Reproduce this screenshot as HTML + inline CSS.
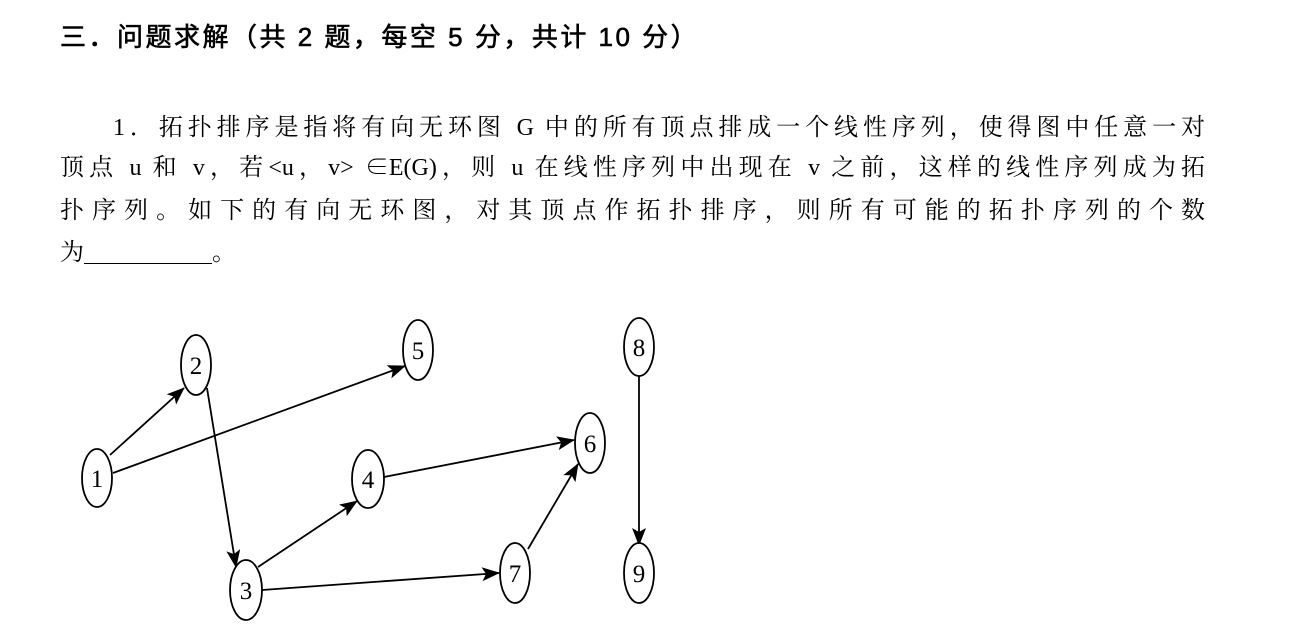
<!DOCTYPE html>
<html><head><meta charset="utf-8"><style>
body{margin:0;width:1299px;height:638px;background:#fff;overflow:hidden;position:relative;font-family:"Liberation Serif","Noto Serif CJK SC",serif;color:#000}
.t{position:absolute;left:60px;top:17px;font-family:"Liberation Sans","Noto Sans CJK SC",sans-serif;font-weight:normal;-webkit-text-stroke:0.6px #000;font-size:26px;letter-spacing:2.5px;white-space:nowrap}
.l{position:absolute;font-size:24px;white-space:nowrap;text-align:justify;text-align-last:justify;line-height:30px}
</style></head><body>
<div class="t">三．问题求解（共 2 题，每空 5 分，共计 10 分）</div>
<div class="l" style="left:113px;top:113px;width:1092px">1．拓扑排序是指将有向无环图 G 中的所有顶点排成一个线性序列，使得图中任意一对</div>
<div class="l" style="left:60px;top:153px;width:1145px">顶点 u 和 v，若&lt;u，v&gt; ∈E(G)，则 u 在线性序列中出现在 v 之前，这样的线性序列成为拓</div>
<div class="l" style="left:60px;top:196px;width:1145px">扑序列。如下的有向无环图，对其顶点作拓扑排序，则所有可能的拓扑序列的个数</div>
<div class="l" style="left:60px;top:238px;text-align:left;text-align-last:left">为<span style="display:inline-block;width:128px;border-bottom:1.5px solid #000;height:24px;vertical-align:-4px"></span>。</div>
<svg width="1299" height="638" style="position:absolute;left:0;top:0">
<defs>
<marker id="b" markerWidth="18" markerHeight="14" refX="17" refY="7" orient="auto" markerUnits="userSpaceOnUse"><path d="M0,0L18,7L0,14L4,7z"/></marker></defs>
<g stroke="#000" stroke-width="1.8" fill="none" marker-end="url(#b)">
<line x1="110" y1="455" x2="184" y2="388"/>
<line x1="113" y1="473" x2="405" y2="366"/>
<line x1="207" y1="388" x2="236" y2="567"/>
<line x1="258" y1="567" x2="357" y2="501"/>
<line x1="262" y1="590" x2="499" y2="573"/>
<line x1="384" y1="477" x2="574" y2="440"/>
<line x1="528" y1="549" x2="578" y2="464"/>
<line x1="639" y1="376" x2="639" y2="545"/>
</g>
<g stroke="#000" stroke-width="1.8" fill="#fff">
<ellipse cx="97" cy="478" rx="15" ry="29"/>
<ellipse cx="196" cy="365" rx="15" ry="30"/>
<ellipse cx="246" cy="590" rx="16" ry="30"/>
<ellipse cx="368" cy="479" rx="16" ry="29"/>
<ellipse cx="418" cy="350" rx="15" ry="30"/>
<ellipse cx="590" cy="443" rx="15" ry="30"/>
<ellipse cx="515" cy="573" rx="15" ry="30"/>
<ellipse cx="639" cy="347" rx="15" ry="29"/>
<ellipse cx="639" cy="573" rx="15" ry="30"/>
</g>
<g font-family="Liberation Serif,serif" font-size="25" text-anchor="middle">
<text x="97" y="487">1</text><text x="196" y="374">2</text><text x="246" y="599">3</text>
<text x="368" y="488">4</text><text x="418" y="359">5</text><text x="590" y="452">6</text>
<text x="515" y="582">7</text><text x="639" y="356">8</text><text x="639" y="582">9</text>
</g>
</svg>
</body></html>
